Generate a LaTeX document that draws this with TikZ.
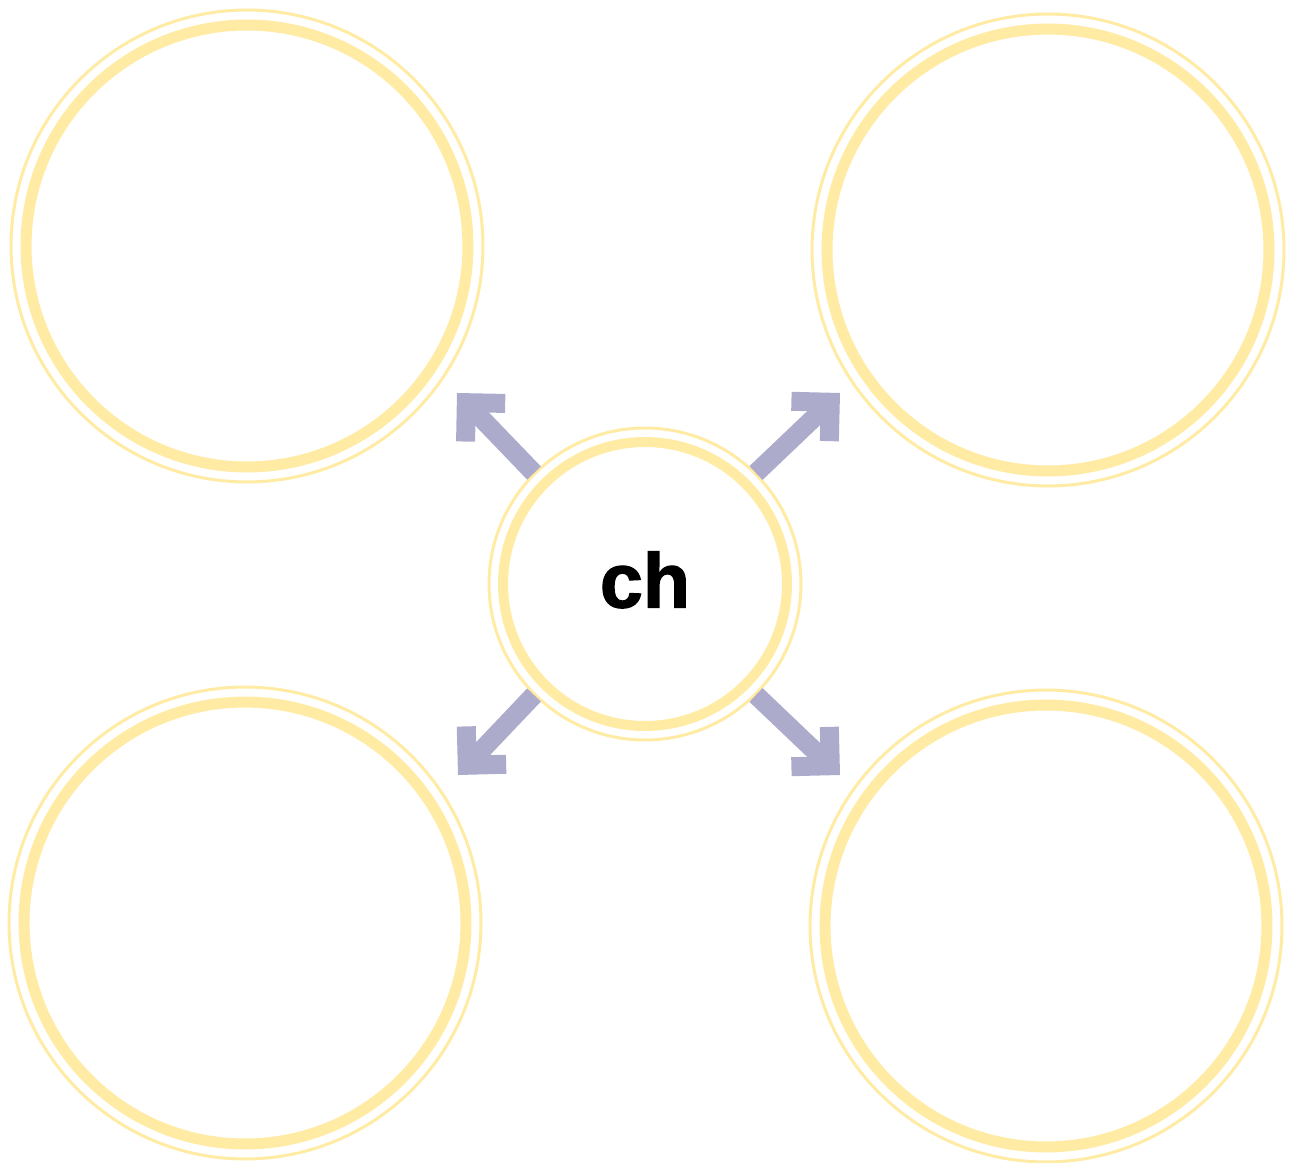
\documentclass[tikz,border=0pt]{standalone}
\usepackage{fontspec}
\setmainfont{Liberation Sans}
\newfontfamily\hubfont[FakeBold=1.6]{Liberation Sans Bold}
\usetikzlibrary{positioning,arrows.meta}
\definecolor{colring}{HTML}{FFEBA3}
\definecolor{colarrow}{HTML}{ACABCB}

\begin{document}
\begin{tikzpicture}[x=0.02cm, y=-0.02cm,
    bigring/.style={circle, draw=colring, line width=0.22cm, minimum size=8.84cm, fill=white},
    hubring/.style={circle, draw=colring, line width=0.2cm, minimum size=5.68cm, outer sep=0.3cm,
      fill=white, text depth=0.18cm, font=\fontsize{44}{44}\selectfont\hubfont},
    thinring/.style={draw=colring, line width=0.06cm},
    spoke/.style={colarrow, line width=0.38cm, -{Straight Barb[length=0.55cm, width=1.1cm]}}]
    \useasboundingbox (0,0) rectangle (1290,1162);
    \node[hubring] (c) at (645,584) {ch};
    \draw[thinring] (c) circle (3.12cm);
    \foreach \n/\x/\y in {tl/247/246,tr/1048/250,bl/245/923,br/1046/926} {
      \node[bigring] (\n) at (\x,\y) {};
      \draw[thinring] (\n) circle (4.72cm);
    }
    \coordinate (ptl) at (457,393);
    \coordinate (ptr) at (840,393);
    \coordinate (pbl) at (458,775);
    \coordinate (pbr) at (840,775);
    \foreach \a/\t in {north west/ptl,north east/ptr,south west/pbl,south east/pbr}
      \draw[spoke] (c.\a) -- (\t);
  \end{tikzpicture}
\end{document}
